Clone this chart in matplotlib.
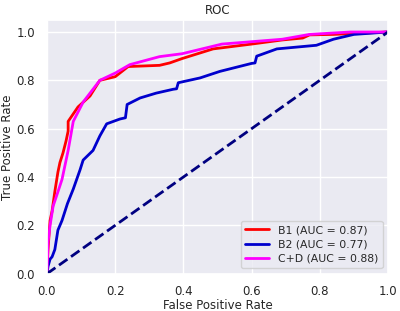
import matplotlib
matplotlib.use("Agg")
import matplotlib.pyplot as plt
import seaborn as sns

# B1
fpr_b1 = [0.0, 0.003, 0.009, 0.015, 0.023, 0.032, 0.038, 0.047, 0.056, 0.062, 0.062,
          0.091, 0.126, 0.155, 0.20, 0.238, 0.33, 0.36, 0.396, 0.487, 0.60, 0.69,
          0.75, 0.77, 0.84, 1.0]
tpr_b1 = [0.0, 0.10, 0.22, 0.26, 0.34, 0.42, 0.46, 0.50, 0.55, 0.59, 0.63,
          0.69, 0.735, 0.80, 0.815, 0.857, 0.862, 0.872, 0.89, 0.93, 0.95, 0.967,
          0.975, 0.988, 0.99, 1.0]

# B2
fpr_b2 = [0.0, 0.003, 0.009, 0.015, 0.023, 0.032, 0.044, 0.060, 0.077, 0.097, 0.106,
          0.135, 0.155, 0.175, 0.214, 0.230, 0.235, 0.273, 0.32, 0.37, 0.38, 0.385,
          0.449, 0.507, 0.60, 0.61, 0.615, 0.625, 0.674, 0.79, 0.84, 0.90, 1.0]
tpr_b2 = [0.0, 0.03, 0.06, 0.07, 0.10, 0.18, 0.22, 0.29, 0.35, 0.43, 0.47,
          0.51, 0.57, 0.62, 0.64, 0.645, 0.70, 0.727, 0.747, 0.763, 0.765, 0.79,
          0.81, 0.837, 0.87, 0.872, 0.90, 0.905, 0.93, 0.945, 0.97, 0.99, 1.0]

# C+D
fpr_cd = [0.0, 0.003, 0.009, 0.018, 0.030, 0.044, 0.053, 0.062, 0.077, 0.106, 0.155,
          0.20, 0.243, 0.33, 0.396, 0.513, 0.69, 0.77, 0.89, 1.0]
tpr_cd = [0.0, 0.13, 0.20, 0.28, 0.33, 0.39, 0.45, 0.51, 0.63, 0.71, 0.80,
          0.83, 0.865, 0.898, 0.91, 0.95, 0.97, 0.99, 1.0, 1.0]

auc_b1, auc_b2, auc_cd = 0.87, 0.77, 0.88

sns.set_theme(style="darkgrid")
plt.rcParams["font.family"] = ["DejaVu Sans"]

fig, ax = plt.subplots(figsize=(4.0, 3.11), dpi=100)
ax.plot(fpr_b1, tpr_b1, color="red", lw=2, label=f"B1 (AUC = {auc_b1:.2f})")
ax.plot(fpr_b2, tpr_b2, color="mediumblue", lw=2, label=f"B2 (AUC = {auc_b2:.2f})")
ax.plot(fpr_cd, tpr_cd, color="magenta", lw=2, label=f"C+D (AUC = {auc_cd:.2f})")
ax.plot([0, 1], [0, 1], color="navy", lw=2, linestyle="--")
ax.set_xlim(0.0, 1.0)
ax.set_ylim(0.0, 1.05)
ax.set_xlabel("False Positive Rate", fontsize=8.5, labelpad=0.5)
ax.set_ylabel("True Positive Rate", fontsize=8.5, labelpad=1.5)
ax.set_title("ROC", fontsize=8.5, pad=4)
ax.tick_params(labelsize=8.5, pad=2.5)
ax.legend(loc="lower right", fontsize=7.8, handlelength=2.2, labelspacing=0.4)
fig.subplots_adjust(left=0.1175, right=0.97, bottom=0.12, top=0.936)
fig.savefig("out.png", dpi=100)
